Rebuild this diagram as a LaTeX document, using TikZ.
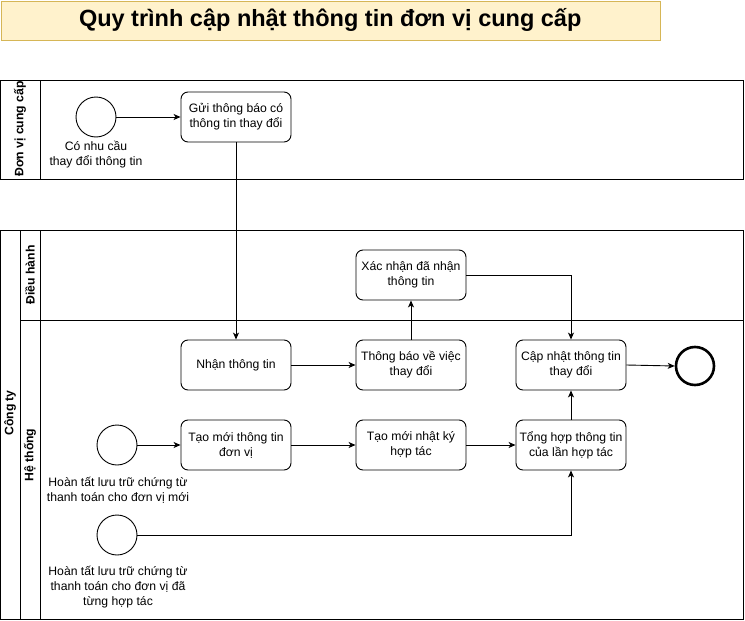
\documentclass[tikz,border=0pt]{standalone}
\usepackage{fontspec}
\setmainfont{Liberation Sans}
\usetikzlibrary{arrows.meta}
\definecolor{titlefill}{HTML}{FFF2CC}
\definecolor{titledraw}{HTML}{D6B656}
\begin{document}
\begin{tikzpicture}[x=1pt,y=-1pt,
  every node/.style={font=\fontsize{12.2}{15}\selectfont},
  task/.style={draw,rounded corners=7pt,minimum width=110pt,minimum height=50pt,align=center,inner sep=1pt,line width=0.9pt},
  startev/.style={draw,circle,minimum size=40pt,inner sep=0pt,line width=0.9pt},
  endev/.style={draw,circle,minimum size=38pt,inner sep=0pt,line width=2.6pt},
  evlabel/.style={align=center,inner sep=0pt},
  lanelabel/.style={font=\bfseries\fontsize{12.2}{14}\selectfont,rotate=90},
  pool/.style={draw,line width=0.9pt},
  flow/.style={line width=0.9pt,-{Stealth[length=7pt,width=6pt,inset=2pt]}}
]
\useasboundingbox (0,0) rectangle (745,621);
% title
\node[draw=titledraw,fill=titlefill,minimum width=659pt,minimum height=39pt,inner sep=0pt,anchor=north west,font=\bfseries\fontsize{23.5}{28}\selectfont] (title) at (0.5,0.5) {Quy trình cập nhật thông tin đơn vị cung cấp};
% top pool
\draw[pool] (0.5,80.5) rectangle (743.5,179.5);
\draw[pool] (40.5,80.5) -- (40.5,179.5);
\node[lanelabel] (lblncc) at (20,129) {Đơn vị cung cấp};
% bottom pool
\draw[pool] (0.5,230.5) rectangle (743.5,619.5);
\draw[pool] (20.5,230.5) -- (20.5,619.5);
\draw[pool] (40.5,230.5) -- (40.5,619.5);
\draw[pool] (20.5,320.5) -- (743.5,320.5);
\node[lanelabel] (lblcty) at (10,413) {Công ty};
\node[lanelabel] (lbldh) at (30,275) {Điều hành};
\node[lanelabel] (lblht) at (30,455) {Hệ thống};
% nodes
\node[startev] (s1) at (96,117) {};
\node[evlabel] (s1l) at (96,155) {Có nhu cầu\\thay đổi thông tin};
\node[task] (gui) at (236,117) {Gửi thông báo có\\thông tin thay đổi};
\node[task] (xn) at (411,275) {Xác nhận đã nhận\\thông tin};
\node[task] (nhan) at (236,365) {Nhận thông tin};
\node[task] (tb) at (411,365) {Thông báo về việc\\thay đổi};
\node[task] (cn) at (571,365) {Cập nhật thông tin\\thay đổi};
\node[endev] (e1) at (695,366) {};
\node[startev] (s2) at (117,445) {};
\node[evlabel] (s2l) at (118,490) {Hoàn tất lưu trữ chứng từ\\thanh toán cho đơn vị mới};
\node[task] (tm) at (236,445) {Tạo mới thông tin\\đơn vị};
\node[task] (nk) at (411,445) {Tạo mới nhật ký\\hợp tác};
\node[task] (th) at (571,445) {Tổng hợp thông tin\\của lần hợp tác};
\node[startev] (s3) at (117,535) {};
\node[evlabel] (s3l) at (118,587) {Hoàn tất lưu trữ chứng từ\\thanh toán cho đơn vị đã\\từng hợp tác};
% flows
\draw[flow] (s1) -- (gui);
\draw[flow] (gui.south) -- (nhan.north);
\draw[flow] (nhan) -- (tb);
\draw[flow] (tb.north) -- (xn.south);
\draw[flow] (xn.east) -| (cn.north);
\draw[flow] (cn.east) -- (e1.west);
\draw[flow] (s2) -- (tm);
\draw[flow] (tm) -- (nk);
\draw[flow] (nk) -- (th);
\draw[flow] (th.north) -- (cn.south);
\draw[flow] (s3.east) -| (th.south);
\end{tikzpicture}
\end{document}
